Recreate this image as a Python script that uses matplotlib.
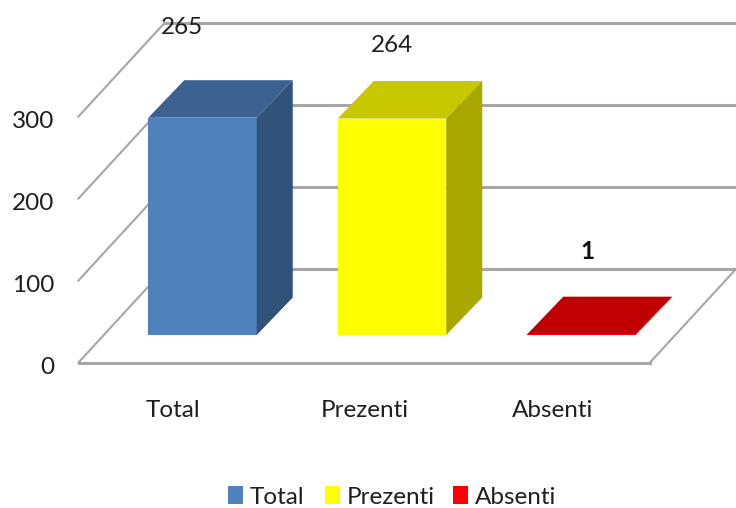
import matplotlib
matplotlib.use("Agg")
import matplotlib.pyplot as plt
from matplotlib.patches import Polygon, Rectangle

categories = ["Total", "Prezenti", "Absenti"]
values = [265, 264, 1]
value_labels = ["265", "264", "1"]
y_ticks = [0, 100, 200, 300]

FRONT = ["#4F81BD", "#FFFF00", "#FF0000"]
TOP = ["#3C6291", "#C8C800", "#C00000"]
SIDE = ["#325379", "#A8A800", "#A00000"]
GRID = "#A6A6A6"
TEXT = "#1F1F1F"

W, H = 736, 508
PX_X = 189.5   # px per category
PX_Y = 0.82    # px per value unit
X0, Y0 = 202.5, 362.5

plt.rcParams["font.family"] = ["Lato", "DejaVu Sans"]
FS = 17.5

fig = plt.figure(figsize=(W / 100, H / 100), dpi=100)
ax = fig.add_axes([0, 0, 1, 1])
ax.set_xlim(-X0 / PX_X, (W - X0) / PX_X)
ax.set_ylim((Y0 - H) / PX_Y, Y0 / PX_Y)
ax.axis("off")

dx, dy = 86 / PX_X, 93.5 / PX_Y        # full floor depth
bdx, bdy = 36 / PX_X, 37.5 / PX_Y      # bar depth
bar_w = 108.5 / PX_X
x_left = -124 / PX_X
x_right = 447.5 / PX_X
bar_lift = 27.5 / PX_Y                 # bar front sits behind the floor front edge

# floor and walls
ax.add_patch(Polygon([(x_left, 0), (x_right, 0), (x_right + dx, dy), (x_left + dx, dy)],
                     closed=True, facecolor="white", edgecolor="none", zorder=1))
ax.plot([x_right, x_right + dx], [0, dy], color=GRID, lw=1.5, zorder=1)
for t in y_ticks:
    ax.plot([x_left, x_left + dx], [t, t + dy], color=GRID, lw=1.5, zorder=1)
    ax.plot([x_left + dx, x_right + dx], [t + dy, t + dy], color=GRID, lw=2.2, zorder=1)
    ax.text(x_left - 24 / PX_X, t - 4.5 / PX_Y, str(t), ha="right", va="center", fontsize=FS, color=TEXT)
ax.plot([x_left, x_right], [0, 0], color=GRID, lw=2.2, zorder=1)

for i, (v, f, tp, s) in enumerate(zip(values, FRONT, TOP, SIDE)):
    l = i - bar_w / 2
    r = i + bar_w / 2
    b = bar_lift
    t = b + v
    ax.add_patch(Rectangle((l, b), bar_w, v, facecolor=f, edgecolor="none", zorder=3))
    ax.add_patch(Polygon([(l, t), (r, t), (r + bdx, t + bdy), (l + bdx, t + bdy)],
                         closed=True, facecolor=tp, edgecolor="none", zorder=3))
    ax.add_patch(Polygon([(r, b), (r, t), (r + bdx, t + bdy), (r + bdx, b + bdy)],
                         closed=True, facecolor=s, edgecolor="none", zorder=3))

# category labels (centres)
for i, off in enumerate([-29.5, -27, -28.5]):
    ax.text(i + off / PX_X, -48 / PX_Y, categories[i], ha="center", va="center", fontsize=FS, color=TEXT)

ax.text(0 - 20 / PX_X, 335 / PX_Y, value_labels[0], ha="center", va="center", fontsize=FS, color=TEXT, zorder=5)
ax.text(1 - 0 / PX_X, 316.5 / PX_Y, value_labels[1], ha="center", va="center", fontsize=FS, color=TEXT, zorder=5)
ax.text(2 + 6 / PX_X, 111 / PX_Y, value_labels[2], ha="center", va="center", fontsize=FS, color="#111111",
        fontweight="bold", zorder=5)

# legend
lx = [228, 325, 453]
for px, c, n in zip(lx, FRONT, categories):
    ax.add_patch(Rectangle(((px - X0) / PX_X, (Y0 - 504) / PX_Y), 15 / PX_X, 18 / PX_Y, facecolor=c, zorder=3))
    ax.text((px + 22 - X0) / PX_X, (Y0 - 497) / PX_Y, n, ha="left", va="center", fontsize=FS, color=TEXT)

fig.savefig("out.png", dpi=100)
